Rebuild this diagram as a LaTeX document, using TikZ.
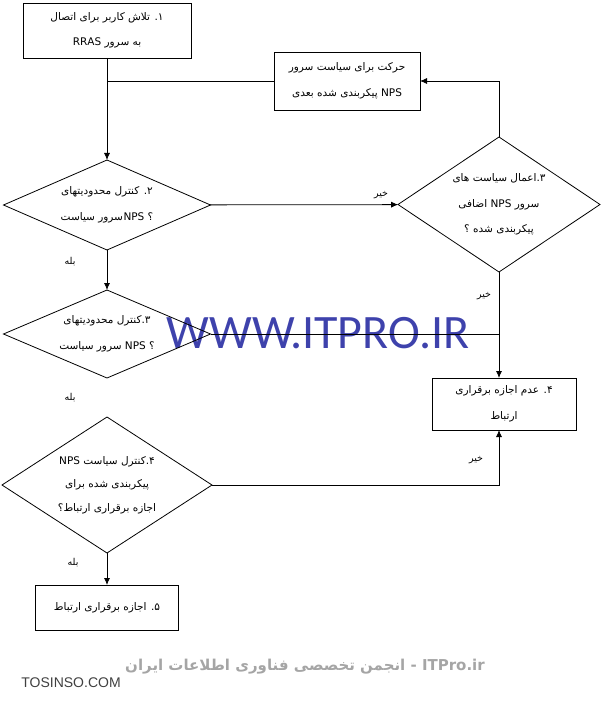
\documentclass[tikz,border=0pt]{standalone}
\usepackage{fontspec}
\setmainfont{DejaVu Sans}
\newfontfamily\farsi[Script=Arabic]{DejaVu Sans}
\newfontfamily\wmfont{Carlito}
\newfontfamily\arialfont{Liberation Sans}
\TeXXeTstate=1
\usetikzlibrary{shapes.geometric,arrows.meta,positioning}
\definecolor{wmblue}{RGB}{62,66,172}
\definecolor{wmgray}{RGB}{165,165,165}
\newcommand{\fa}[1]{\beginR #1\endR}

\begin{document}
\begin{tikzpicture}[x=1pt,y=-1pt,>={Latex[length=7pt,width=6pt]},
                    line width=0.8pt,
                    main node/.style={rectangle,draw,inner sep=0pt,outer sep=0pt},
                    decision/.style={diamond,draw,inner sep=0pt,outer sep=0pt},
                    txt/.style={align=center,font=\farsi\fontsize{10.5}{25.5}\selectfont},
                    answer/.style={font=\farsi\fontsize{9.5}{10}\selectfont}]

  \useasboundingbox (0,0) rectangle (602,701);

  % watermark behind the lines
  \node[text=wmblue,font=\wmfont\fontsize{48}{48}\selectfont] (wm) at (318,333) {WWW.ITPRO.IR};

  % boxes
  \node[main node,minimum width=168,minimum height=55] (1) at (107,30.5) {};
  \node[main node,minimum width=146,minimum height=58] (8) at (347,81) {};
  \node[main node,minimum width=144,minimum height=52] (6) at (504,404) {};
  \node[main node,minimum width=143,minimum height=45] (5) at (107,607.5) {};

  % decisions
  \node[decision,minimum width=207,minimum height=90] (2) at (107,205) {};
  \node[decision,minimum width=202,minimum height=135] (7) at (499,204.5) {};
  \node[decision,minimum width=207,minimum height=88] (3) at (107,334) {};
  \node[decision,minimum width=210,minimum height=136] (4) at (107,485) {};

  % texts
  \node[txt] (t1) at (1) {\fa{۱. تلاش کاربر برای اتصال}\\\fa{به سرور RRAS}};
  \node[txt] (t8) at (8) {\fa{حرکت برای سیاست سرور}\\\fa{NPS پیکربندی شده بعدی}};
  \node[txt] (t2) at (2) {\fa{۲. کنترل محدودیتهای}\\\fa{؟ NPS\kern0.5pt سرور سیاست}};
  \node[txt] (t7) at (7) {\fa{۳.اعمال سیاست های}\\\fa{سرور NPS اضافی}\\\fa{پیکربندی شده ؟}};
  \node[txt] (t3) at (3) {\fa{۳.کنترل محدودیتهای}\\\fa{؟ NPS سرور سیاست}};
  \node[txt,font=\farsi\fontsize{10.5}{23.5}\selectfont] (t4) at (4) {\fa{۴.کنترل سیاست NPS}\\\fa{پیکربندی شده برای}\\\fa{اجازه برقراری ارتباط؟}};
  \node[txt] (t6) at (6) {\fa{۴. عدم اجازه برقراری}\\\fa{ارتباط}};
  \node[txt] (t5) at (5) {\fa{۵. اجازه برقراری ارتباط}};

  % answers
  \node[answer] (no1) at (381,195) {\fa{خیر}};
  \node[answer] (yes1) at (70,262) {\fa{بله}};
  \node[answer] (no2) at (484,296) {\fa{خیر}};
  \node[answer] (yes2) at (70,398) {\fa{بله}};
  \node[answer] (no3) at (476,460) {\fa{خیر}};
  \node[answer] (yes3) at (73,563) {\fa{بله}};

  % connectors
  \path[->]
    (1) edge (2)
    (2) edge (7)
        edge (3)
    (4) edge (5);
  \draw (8.west) -- (8.west -| 1.south);
  \draw[->] (7.north) |- (8.east);
  \draw[->] (7.south) -- (7.south |- 6.north);
  \draw (3.east) -- (3.east -| 7.south);
  \draw[->] (4.east) -| (7.south |- 6.south);

  % footer
  \node[text=wmgray,font=\farsi\fontsize{15}{15}\selectfont\bfseries] (ft) at (305,667)
    {\fa{\beginL ITPro.ir\endL{} - انجمن تخصصی فناوری اطلاعات ایران}};
  \node[text=black!75,font=\arialfont\fontsize{14}{14}\selectfont] (site) at (71,683) {TOSINSO.COM};

\end{tikzpicture}
\end{document}
